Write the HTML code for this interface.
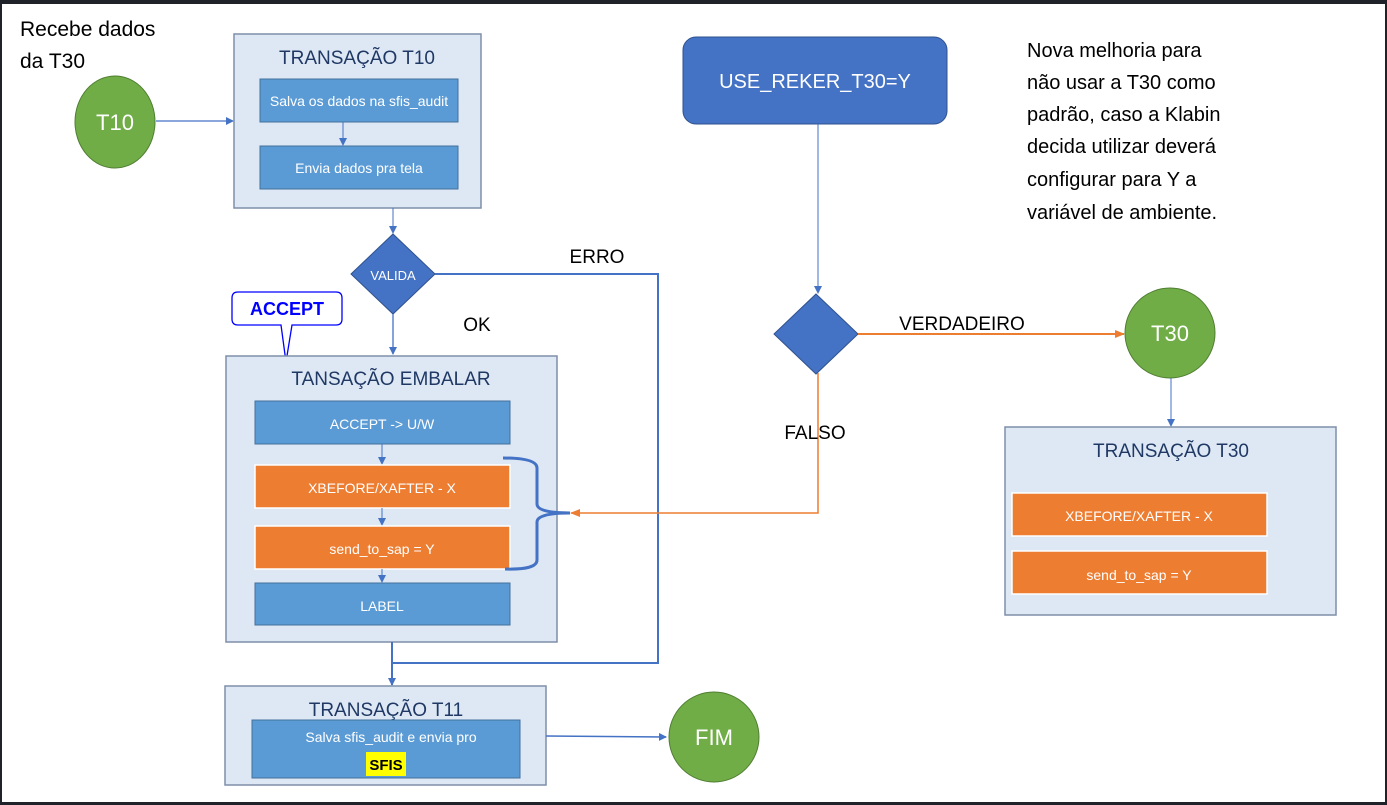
<!DOCTYPE html>
<html><head><meta charset="utf-8"><style>
html,body{margin:0;padding:0;background:#fff}
svg{display:block}
text{font-family:"Liberation Sans",sans-serif}
</style></head><body>
<svg width="1387" height="805" viewBox="0 0 1387 805" xmlns="http://www.w3.org/2000/svg">
<defs>
<marker id="ab" markerWidth="8" markerHeight="8" refX="7" refY="4" orient="auto" markerUnits="userSpaceOnUse"><path d="M0,0 L8,4 L0,8 z" fill="#4472c4"/></marker>
<marker id="ao" markerWidth="10" markerHeight="8" refX="9" refY="4" orient="auto" markerUnits="userSpaceOnUse"><path d="M0,0 L10,4 L0,8 z" fill="#ed7d31"/></marker>
</defs>
<rect x="0" y="0" width="1387" height="805" fill="#fff"/>
<rect x="0" y="0" width="1387" height="4" fill="#1f2228"/>
<rect x="0" y="0" width="2" height="805" fill="#1f2228"/>
<rect x="1385" y="0" width="2" height="805" fill="#1f2228"/>
<rect x="0" y="802" width="1387" height="3" fill="#1f2228"/>

<text x="20" y="36" font-size="21" fill="#000">Recebe dados</text>
<text x="20" y="68" font-size="21" fill="#000">da T30</text>

<!-- T10 circle -->
<ellipse cx="115" cy="122" rx="40" ry="46" fill="#70ad47" stroke="#507e32"/>
<text x="115" y="130" font-size="22" fill="#fff" text-anchor="middle">T10</text>
<line x1="156" y1="121" x2="233" y2="121" stroke="#4472c4" stroke-width="1.3" marker-end="url(#ab)"/>

<!-- T10 box -->
<rect x="234" y="34" width="247" height="174" fill="#dee8f5" stroke="#7f8fa9" stroke-width="1.5"/>
<text x="357" y="64" font-size="19" fill="#1f3864" text-anchor="middle">TRANSAÇÃO T10</text>
<rect x="260" y="79" width="198" height="43" fill="#5b9bd5" stroke="#41719c"/>
<text x="359" y="106" font-size="14" fill="#fff" text-anchor="middle">Salva os dados na sfis_audit</text>
<line x1="343" y1="122" x2="343" y2="145" stroke="#4472c4" marker-end="url(#ab)"/>
<rect x="260" y="146" width="198" height="43" fill="#5b9bd5" stroke="#41719c"/>
<text x="359" y="173" font-size="14" fill="#fff" text-anchor="middle">Envia dados pra tela</text>
<line x1="393" y1="208" x2="393" y2="233" stroke="#4472c4" marker-end="url(#ab)"/>

<!-- VALIDA -->
<polygon points="393,234 435,274 393,314 351,274" fill="#4472c4" stroke="#2f528f"/>
<text x="393" y="280" font-size="13" fill="#fff" text-anchor="middle">VALIDA</text>
<polyline points="435,274 658,274 658,663 392,663" fill="none" stroke="#4472c4" stroke-width="2"/>
<text x="597" y="263" font-size="19" fill="#000" text-anchor="middle">ERRO</text>
<text x="477" y="331" font-size="19" fill="#000" text-anchor="middle">OK</text>
<line x1="393" y1="314" x2="393" y2="354" stroke="#4472c4" stroke-width="1.3" marker-end="url(#ab)"/>

<!-- ACCEPT callout -->
<path d="M238,292 H336 Q342,292 342,298 V319 Q342,325 336,325 H292 L286,362 L281,325 H238 Q232,325 232,319 V298 Q232,292 238,292 Z" fill="#fff" stroke="#0000ff" stroke-width="1.3"/>
<text x="287" y="315" font-size="18" fill="#0000ff" text-anchor="middle" font-weight="bold">ACCEPT</text>

<!-- EMBALAR -->
<rect x="226" y="356" width="331" height="286" fill="#dee8f5" stroke="#7f8fa9" stroke-width="1.5"/>
<text x="391" y="385" font-size="19" fill="#1f3864" text-anchor="middle">TANSAÇÃO EMBALAR</text>
<rect x="255" y="401" width="255" height="43" fill="#5b9bd5" stroke="#41719c"/>
<text x="382" y="429" font-size="14" fill="#fff" text-anchor="middle">ACCEPT -&gt; U/W</text>
<line x1="382" y1="444" x2="382" y2="464" stroke="#4472c4" marker-end="url(#ab)"/>
<rect x="255" y="465" width="255" height="43" fill="#ed7d31" stroke="#fff" stroke-width="1.5"/>
<text x="382" y="493" font-size="14" fill="#fff" text-anchor="middle">XBEFORE/XAFTER - X</text>
<line x1="382" y1="508" x2="382" y2="525" stroke="#4472c4" marker-end="url(#ab)"/>
<rect x="255" y="526" width="255" height="43" fill="#ed7d31" stroke="#fff" stroke-width="1.5"/>
<text x="382" y="554" font-size="14" fill="#fff" text-anchor="middle">send_to_sap = Y</text>
<line x1="382" y1="569" x2="382" y2="582" stroke="#4472c4" marker-end="url(#ab)"/>
<rect x="255" y="583" width="255" height="42" fill="#5b9bd5" stroke="#41719c"/>
<text x="382" y="611" font-size="14" fill="#fff" text-anchor="middle">LABEL</text>
<path d="M503,458 Q537,458 537,468 V504 Q537,513 570,513 Q537,513 537,522 V560 Q537,570 505,569" fill="none" stroke="#4472c4" stroke-width="3"/>

<!-- orange falso -->
<polyline points="818,373 818,513 571,513" fill="none" stroke="#ed7d31" stroke-width="1.5" marker-end="url(#ao)"/>
<text x="815" y="439" font-size="19" fill="#000" text-anchor="middle">FALSO</text>

<line x1="392" y1="642" x2="392" y2="685" stroke="#4472c4" stroke-width="2" marker-end="url(#ab)"/>

<!-- T11 -->
<rect x="225" y="686" width="321" height="99" fill="#dee8f5" stroke="#7f8fa9" stroke-width="1.5"/>
<text x="386" y="716" font-size="19" fill="#1f3864" text-anchor="middle">TRANSAÇÃO T11</text>
<rect x="252" y="720" width="268" height="58" fill="#5b9bd5" stroke="#41719c"/>
<text x="391" y="742" font-size="14" fill="#fff" text-anchor="middle">Salva sfis_audit  e envia pro</text>
<rect x="366" y="752" width="40" height="24" fill="#ffff00"/>
<text x="386" y="770" font-size="15" fill="#000" text-anchor="middle" font-weight="bold">SFIS</text>
<line x1="546" y1="736" x2="666" y2="737" stroke="#4472c4" stroke-width="1.5" marker-end="url(#ab)"/>
<circle cx="714" cy="737" r="45" fill="#70ad47" stroke="#507e32"/>
<text x="714" y="745" font-size="22" fill="#fff" text-anchor="middle">FIM</text>

<!-- USE_REKER -->
<rect x="683" y="37" width="264" height="87" rx="13" fill="#4472c4" stroke="#2f528f"/>
<text x="815" y="88" font-size="20" fill="#fff" text-anchor="middle">USE_REKER_T30=Y</text>
<line x1="818" y1="124" x2="818" y2="293" stroke="#4472c4" stroke-width="1" marker-end="url(#ab)"/>
<polygon points="816,294 858,334 816,374 774,334" fill="#4472c4" stroke="#2f528f"/>
<line x1="858" y1="334" x2="1124" y2="334" stroke="#ed7d31" stroke-width="2" marker-end="url(#ao)"/>
<text x="962" y="330" font-size="19" fill="#000" text-anchor="middle">VERDADEIRO</text>
<circle cx="1170" cy="333" r="45" fill="#70ad47" stroke="#507e32"/>
<text x="1170" y="341" font-size="22" fill="#fff" text-anchor="middle">T30</text>
<line x1="1171" y1="378" x2="1171" y2="426" stroke="#4472c4" marker-end="url(#ab)"/>

<!-- T30 box -->
<rect x="1005" y="427" width="331" height="188" fill="#dee8f5" stroke="#7f8fa9" stroke-width="1.5"/>
<text x="1171" y="457" font-size="19" fill="#1f3864" text-anchor="middle">TRANSAÇÃO T30</text>
<rect x="1012" y="493" width="255" height="43" fill="#ed7d31" stroke="#fff" stroke-width="1.5"/>
<text x="1139" y="521" font-size="14" fill="#fff" text-anchor="middle">XBEFORE/XAFTER - X</text>
<rect x="1012" y="551" width="255" height="43" fill="#ed7d31" stroke="#fff" stroke-width="1.5"/>
<text x="1139" y="580" font-size="14" fill="#fff" text-anchor="middle">send_to_sap = Y</text>

<g font-size="20" fill="#000">
<text x="1027" y="57">Nova melhoria para</text>
<text x="1027" y="89">não usar a T30 como</text>
<text x="1027" y="121">padrão, caso a Klabin</text>
<text x="1027" y="153">decida utilizar deverá</text>
<text x="1027" y="186">configurar para Y a</text>
<text x="1027" y="219">variável de ambiente.</text>
</g>
</svg>
</body></html>
